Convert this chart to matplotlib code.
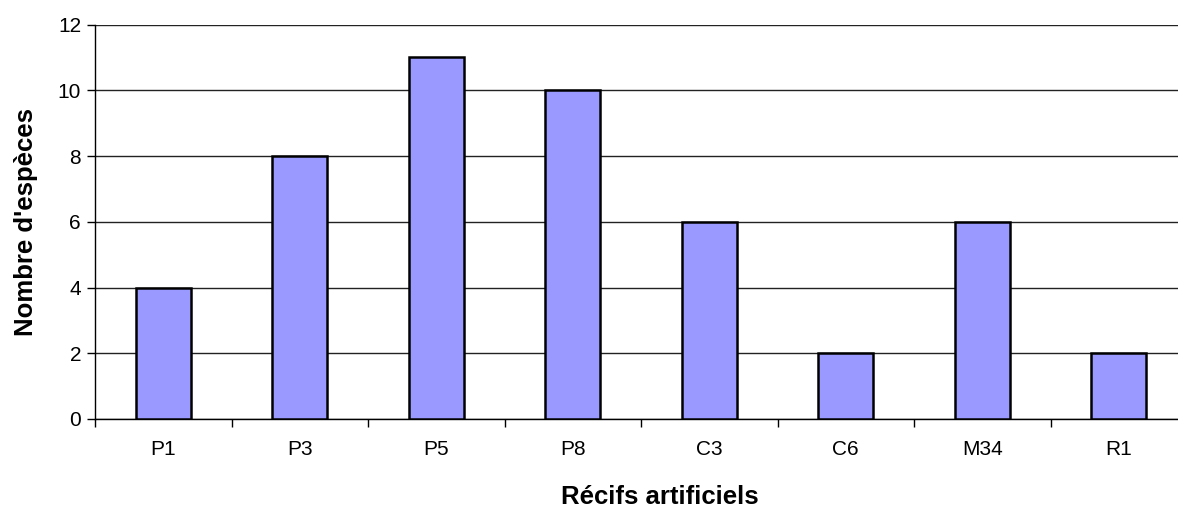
import matplotlib.pyplot as plt
import numpy as np

plt.rcParams['font.family'] = ['Liberation Sans', 'DejaVu Sans']

recifs = ['P1', 'P3', 'P5', 'P8', 'C3', 'C6', 'M34', 'R1']
nb_especes = [4, 8, 11, 10, 6, 2, 6, 2]
y_ticks = [0, 2, 4, 6, 8, 10, 12]

fig = plt.figure(figsize=(11.78, 5.07), dpi=100)
ax = fig.add_axes([95 / 1178, 88 / 507, 1092 / 1178, 394.5 / 507])

x = np.arange(len(recifs))
ax.bar(x, nb_especes, width=0.4, color='#9999FF', edgecolor='black',
       linewidth=1.8, zorder=3)

ax.set_xlim(-0.5, len(recifs) - 0.5)
ax.set_ylim(0, 12)
ax.set_yticks(y_ticks)
ax.yaxis.grid(True, color='#222222', linewidth=1.0, zorder=0)

# category labels centred, ticks between categories
ax.set_xticks(x)
ax.set_xticklabels(recifs, fontsize=15)
ax.set_xticks(np.arange(len(recifs) + 1) - 0.5, minor=True)
ax.tick_params(axis='x', which='major', length=0, pad=15)
ax.tick_params(axis='x', which='minor', length=6, width=1, direction='out')
ax.tick_params(axis='y', labelsize=15, length=6, width=1, direction='out', pad=4)

for side in ['top', 'right']:
    ax.spines[side].set_visible(False)
ax.spines['left'].set_linewidth(1.0)
ax.spines['bottom'].set_linewidth(1.0)

ax.set_xlabel('Récifs artificiels', fontsize=18.5, fontweight='bold', labelpad=19)
ax.xaxis.label.set_x(0.517)
ax.set_ylabel("Nombre d'espèces", fontsize=18.5, fontweight='bold', labelpad=14)

fig.savefig('out.png', dpi=100)
